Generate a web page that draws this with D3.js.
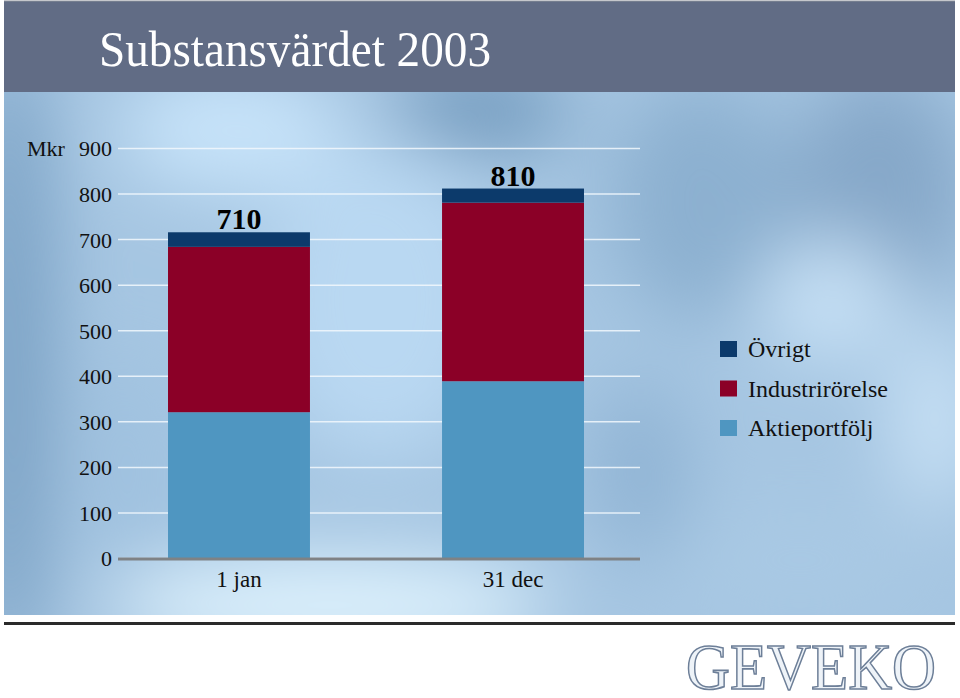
<!DOCTYPE html>
<html>
<head>
<meta charset="utf-8">
<script src="https://cdn.jsdelivr.net/npm/d3@7"></script>
<style>
  html, body { margin: 0; padding: 0; background: #fff; }
  svg { display: block; }
</style>
</head>
<body>
<div id="chart"></div>
<script>
const categories = ["1 jan", "31 dec"];
const seriesNames = ["Aktieportfölj", "Industrirörelse", "Övrigt"];
const aktieportfolj = [320, 388];
const industrirorelse = [363, 392];
const ovrigt = [32, 31];
const totalLabels = ["710", "810"];
const yTicks = [0, 100, 200, 300, 400, 500, 600, 700, 800, 900];
const colors = ["#4f96c1", "#8b0027", "#0c3a6b"];

const W = 960, H = 698;
const serif = "'Liberation Serif', 'Times New Roman', serif";

const svg = d3.select("#chart").append("svg")
  .attr("width", W).attr("height", H);

const defs = svg.append("defs");
defs.append("filter").attr("id", "blur")
  .attr("x", "-50%").attr("y", "-50%").attr("width", "200%").attr("height", "200%")
  .append("feGaussianBlur").attr("stdDeviation", 38);
defs.append("clipPath").attr("id", "bgclip")
  .append("rect").attr("x", 4).attr("y", 92).attr("width", 951).attr("height", 523);

// blurry blue backdrop
const bg = svg.append("g").attr("clip-path", "url(#bgclip)");
bg.append("rect").attr("x", 4).attr("y", 92).attr("width", 951).attr("height", 523)
  .attr("fill", "#a6c6e2");
const blobs = bg.append("g").attr("filter", "url(#blur)");
[
  [10, 360, 45, 320, "#7aa1c4"],
  [480, 110, 90, 40, "#6f98bc"],
  [230, 130, 110, 60, "#c8e4fa"],
  [330, 605, 220, 45, "#e2f5ff"],
  [700, 200, 90, 120, "#8cb0d0"],
  [880, 190, 90, 120, "#86a8c9"],
  [830, 300, 70, 60, "#c6e0f5"],
  [935, 420, 40, 90, "#cae3f7"],
  [640, 470, 50, 90, "#90b4d4"],
  [380, 300, 120, 160, "#b9d8f2"],
  [130, 470, 40, 120, "#9fc1df"],
  [800, 560, 120, 50, "#a9c9e4"]
].forEach(([cx, cy, rx, ry, c]) => {
  blobs.append("ellipse").attr("cx", cx).attr("cy", cy)
    .attr("rx", rx).attr("ry", ry).attr("fill", c);
});

// title bar
svg.append("rect").attr("x", 4).attr("y", 1).attr("width", 951).attr("height", 91)
  .attr("fill", "#616c85");
svg.append("line").attr("x1", 4).attr("x2", 955).attr("y1", 1).attr("y2", 1)
  .attr("stroke", "#8a8f99").attr("stroke-width", 1);
svg.append("text").attr("x", 99).attr("y", 66)
  .attr("font-family", serif).attr("font-size", 50).attr("fill", "#fff")
  .attr("textLength", 392).attr("lengthAdjust", "spacingAndGlyphs")
  .text("Substansvärdet 2003");

// bottom rule
svg.append("rect").attr("x", 4).attr("y", 622).attr("width", 951).attr("height", 3)
  .attr("fill", "#2a2a2a");

// scales
const y = d3.scaleLinear().domain([0, 900]).range([558, 148]);
const x = d3.scaleBand().domain(categories).range([118, 634])
  .paddingInner(0.482).paddingOuter(0.1825);
const plotLeft = 118, plotRight = 640;

// gridlines + tick labels
const yAxis = svg.append("g")
  .attr("transform", `translate(${plotLeft},0)`)
  .call(d3.axisLeft(y).tickValues(yTicks).tickSize(-(plotRight - plotLeft)).tickPadding(6));
yAxis.select(".domain").remove();
yAxis.selectAll(".tick line")
  .attr("stroke", "#f2f8fd").attr("stroke-opacity", 0.85).attr("stroke-width", 1.5);
yAxis.selectAll(".tick text")
  .attr("font-family", serif).attr("font-size", 22).attr("fill", "#111")
  .attr("dy", "0.36em");
svg.append("text").attr("x", 27).attr("y", y(900)).attr("dy", "0.36em")
  .attr("font-family", serif).attr("font-size", 22).attr("fill", "#111")
  .text("Mkr");

// stacked bars
const rows = categories.map((c, i) => ({
  cat: c,
  "Aktieportfölj": aktieportfolj[i],
  "Industrirörelse": industrirorelse[i],
  "Övrigt": ovrigt[i]
}));
const stack = d3.stack().keys(seriesNames)(rows);

svg.append("g").selectAll("g")
  .data(stack)
  .join("g")
  .attr("fill", (d, i) => colors[i])
  .selectAll("rect")
  .data(d => d)
  .join("rect")
  .attr("x", d => x(d.data.cat))
  .attr("width", x.bandwidth())
  .attr("y", d => y(d[1]))
  .attr("height", d => y(d[0]) - y(d[1]));

// baseline
svg.append("line")
  .attr("x1", plotLeft).attr("x2", plotRight)
  .attr("y1", y(0) + 1).attr("y2", y(0) + 1)
  .attr("stroke", "#7f8285").attr("stroke-width", 3);

// total labels
const topLayer = stack[stack.length - 1];
svg.append("g").selectAll("text")
  .data(topLayer)
  .join("text")
  .attr("x", d => x(d.data.cat) + x.bandwidth() / 2)
  .attr("y", d => y(d[1]) - 3)
  .attr("text-anchor", "middle")
  .attr("font-family", serif).attr("font-size", 30).attr("font-weight", "bold")
  .attr("fill", "#000")
  .text((d, i) => totalLabels[i]);

// category labels
svg.append("g").selectAll("text")
  .data(categories)
  .join("text")
  .attr("x", d => x(d) + x.bandwidth() / 2)
  .attr("y", 587)
  .attr("text-anchor", "middle")
  .attr("font-family", serif).attr("font-size", 23).attr("fill", "#111")
  .text(d => d);

// legend
const legendItems = seriesNames.map((n, i) => ({ name: n, color: colors[i] })).reverse();
const legend = svg.append("g").attr("transform", "translate(720,341)");
const li = legend.selectAll("g")
  .data(legendItems)
  .join("g")
  .attr("transform", (d, i) => `translate(0,${i * 39.5})`);
li.append("rect").attr("width", 17).attr("height", 16).attr("fill", d => d.color);
li.append("text").attr("x", 28).attr("y", 16)
  .attr("font-family", serif).attr("font-size", 24).attr("fill", "#111")
  .text(d => d.name);

// logo
svg.append("text").attr("x", 686).attr("y", 689)
  .attr("font-family", serif).attr("font-size", 66)
  .attr("textLength", 250).attr("lengthAdjust", "spacingAndGlyphs")
  .attr("fill", "#eef3f8").attr("stroke", "#6d7f98").attr("stroke-width", 1.6)
  .text("GEVEKO");
</script>
</body>
</html>
